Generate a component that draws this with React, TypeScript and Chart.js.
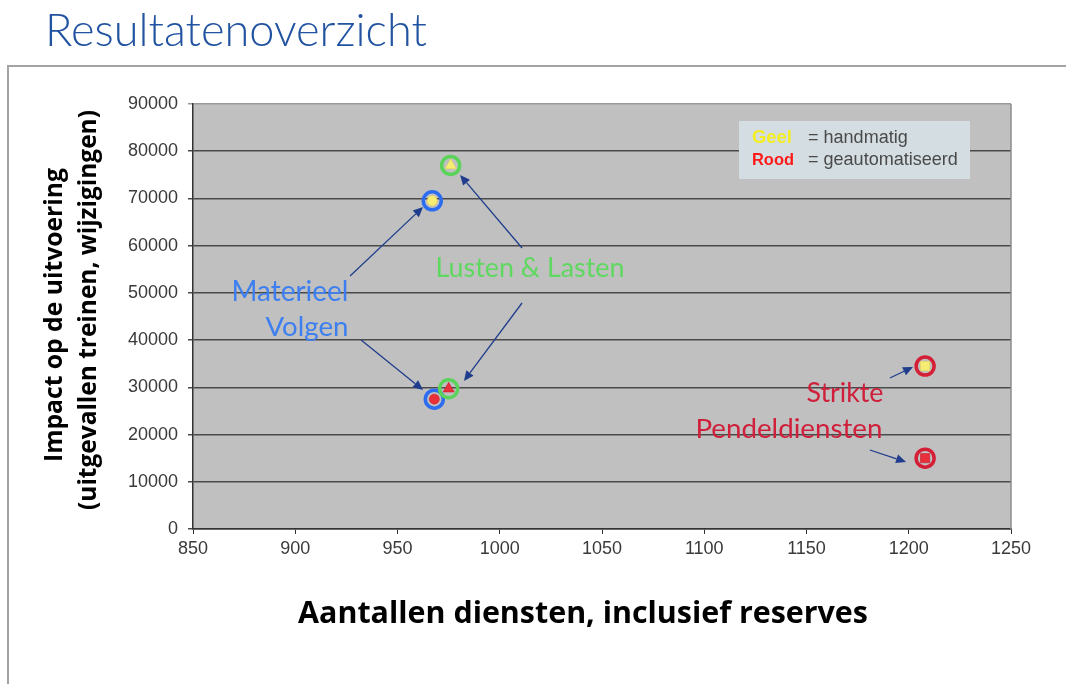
import React, { useEffect, useRef } from 'react';
import { Chart, registerables } from 'chart.js';

Chart.register(...registerables);

// ---------- data ----------
const groups = ['Materieel Volgen', 'Lusten & Lasten', 'Strikte Pendeldiensten'];
const geelDiensten = [967, 976, 1208];
const geelImpact = [69500, 77000, 34500];
const roodDiensten = [968, 975, 1208];
const roodImpact = [27500, 29700, 15000];
const xTickValues = [850, 900, 950, 1000, 1050, 1100, 1150, 1200, 1250];
const yTickValues = [0, 10000, 20000, 30000, 40000, 50000, 60000, 70000, 80000, 90000];

// ---------- styles ----------
const ringColors = ['#2b6cf0', '#5ad35a', '#d41f36'];
const innerShapes = ['circle', 'triangle', 'rect'];
const innerRadius = [5, 6.5, 6.5];
const geelFill = '#f6ec72';
const roodFill = '#e9303a';

const TITLE = 'Resultatenoverzicht';
const Y_TITLE = ['Impact op de uitvoering', '(uitgevallen treinen, wijzigingen)'];
const X_TITLE = 'Aantallen diensten, inclusief reserves';

// annotation labels (data units), with target widths in px
const annoLabels = [
  { text: 'Materieel', x: 897.4, y: 50200, color: '#3d7ff0', w: 117 },
  { text: 'Volgen', x: 905.7, y: 42800, color: '#3d7ff0', w: 83 },
  { text: 'Lusten & Lasten', x: 1014.8, y: 55100, color: '#5fd85f', w: 189 },
  { text: 'Strikte', x: 1168.8, y: 28800, color: '#cf1f3a', w: 77 },
  { text: 'Pendeldiensten', x: 1141.4, y: 21200, color: '#cf1f3a', w: 187 },
];
const annoArrows = [
  { from: [926.8, 53580], to: [962.5, 68190] },
  { from: [932.2, 40020], to: [962.5, 29440] },
  { from: [1010.9, 59510], to: [980.6, 74970] },
  { from: [1010.9, 47860], to: [982.5, 31340] },
  { from: [1190.8, 31980], to: [1202.1, 34310] },
  { from: [1181.0, 16730], to: [1198.7, 14190] },
];

function fitFont(ctx: CanvasRenderingContext2D, text: string, weight: string, family: string, target: number) {
  ctx.font = `${weight} 20px ${family}`;
  const w = ctx.measureText(text).width;
  const size = (20 * target) / w;
  return `${weight} ${size.toFixed(2)}px ${family}`;
}

const decorPlugin = {
  id: 'decor',
  beforeDraw(chart: any) {
    const ctx: CanvasRenderingContext2D = chart.ctx;
    const { left, top, right, bottom } = chart.chartArea;
    ctx.save();
    ctx.fillStyle = '#ffffff';
    ctx.fillRect(0, 0, chart.width, chart.height);
    // outer frame
    ctx.strokeStyle = '#a3a3a3';
    ctx.lineWidth = 2;
    ctx.beginPath();
    ctx.moveTo(8, 700);
    ctx.lineTo(8, 66);
    ctx.lineTo(1070, 66);
    ctx.stroke();
    // title
    ctx.fillStyle = '#2153a0';
    ctx.textBaseline = 'alphabetic';
    ctx.textAlign = 'left';
    ctx.font = fitFont(ctx, TITLE, '300', 'Lato, "Open Sans", sans-serif', 382);
    ctx.fillText(TITLE, 45, 46);
    // plot background
    ctx.fillStyle = '#c0c0c0';
    ctx.fillRect(left, top, right - left, bottom - top);
    ctx.restore();
  },
  afterDraw(chart: any) {
    const ctx: CanvasRenderingContext2D = chart.ctx;
    const xs = chart.scales.x;
    const ys = chart.scales.y;
    const { left, top, right, bottom } = chart.chartArea;
    ctx.save();
    // right border of plot area
    ctx.strokeStyle = '#8c8c8c';
    ctx.lineWidth = 1.5;
    ctx.beginPath();
    ctx.moveTo(right, top);
    ctx.lineTo(right, bottom);
    ctx.stroke();

    // axis titles
    ctx.fillStyle = '#000';
    ctx.textAlign = 'center';
    ctx.textBaseline = 'middle';
    ctx.font = fitFont(ctx, X_TITLE, '700', '"Open Sans", sans-serif', 570);
    ctx.fillText(X_TITLE, 583, 614);
    const yCenters = [[55, 315, 294], [89, 310, 400]];
    Y_TITLE.forEach((t, i) => {
      ctx.save();
      ctx.translate(yCenters[i][0], yCenters[i][1]);
      ctx.rotate(-Math.PI / 2);
      ctx.font = fitFont(ctx, t, '700', '"Open Sans", sans-serif', yCenters[i][2]);
      ctx.fillText(t, 0, 0);
      ctx.restore();
    });

    // arrows
    ctx.strokeStyle = '#1f3d8c';
    ctx.fillStyle = '#1f3d8c';
    ctx.lineWidth = 1.3;
    annoArrows.forEach((a) => {
      const x1 = xs.getPixelForValue(a.from[0]);
      const y1 = ys.getPixelForValue(a.from[1]);
      const x2 = xs.getPixelForValue(a.to[0]);
      const y2 = ys.getPixelForValue(a.to[1]);
      const ang = Math.atan2(y2 - y1, x2 - x1);
      const len = 10;
      const hw = 4.5;
      const bx = x2 - Math.cos(ang) * len;
      const by = y2 - Math.sin(ang) * len;
      ctx.beginPath();
      ctx.moveTo(x1, y1);
      ctx.lineTo(bx, by);
      ctx.stroke();
      ctx.beginPath();
      ctx.moveTo(x2, y2);
      ctx.lineTo(bx + Math.sin(ang) * hw, by - Math.cos(ang) * hw);
      ctx.lineTo(bx - Math.sin(ang) * hw, by + Math.cos(ang) * hw);
      ctx.closePath();
      ctx.fill();
    });

    // annotation labels
    annoLabels.forEach((l) => {
      ctx.fillStyle = l.color;
      ctx.font = fitFont(ctx, l.text, '400', 'Lato, "Open Sans", sans-serif', l.w);
      ctx.fillText(l.text, xs.getPixelForValue(l.x), ys.getPixelForValue(l.y));
    });

    // legend box
    ctx.fillStyle = '#d4dde1';
    ctx.fillRect(739, 121, 231, 58);
    ctx.textAlign = 'left';
    ctx.textBaseline = 'middle';
    ctx.fillStyle = '#f2ee22';
    ctx.font = fitFont(ctx, 'Geel', '700', '"Liberation Sans", Arial, sans-serif', 40);
    ctx.fillText('Geel', 752, 138);
    ctx.fillStyle = '#ff1a1a';
    ctx.font = fitFont(ctx, 'Rood', '700', '"Liberation Sans", Arial, sans-serif', 42);
    ctx.fillText('Rood', 752, 160);
    ctx.fillStyle = '#4a4a4a';
    ctx.font = fitFont(ctx, '= geautomatiseerd', '400', '"Liberation Sans", Arial, sans-serif', 150);
    ctx.fillText('= handmatig', 808, 138);
    ctx.fillText('= geautomatiseerd', 808, 160);
    ctx.restore();
  },
};

function makeDatasets() {
  const pts = (xs: number[], ys: number[]) => xs.map((x, i) => ({ x, y: ys[i] }));
  return [
    {
      label: 'Geel ring',
      data: pts(geelDiensten, geelImpact),
      pointStyle: 'circle',
      pointRadius: 9,
      pointBorderWidth: 3.5,
      pointBorderColor: ringColors,
      pointBackgroundColor: 'rgba(0,0,0,0)',
      showLine: false,
    },
    {
      label: 'Geel (handmatig)',
      data: pts(geelDiensten, geelImpact),
      pointStyle: innerShapes,
      pointRadius: innerRadius,
      pointBorderWidth: 0.5,
      pointBorderColor: '#e6d84a',
      pointBackgroundColor: geelFill,
      showLine: false,
    },
    {
      label: 'Rood ring',
      data: pts(roodDiensten, roodImpact),
      pointStyle: 'circle',
      pointRadius: 9,
      pointBorderWidth: 3.5,
      pointBorderColor: ringColors,
      pointBackgroundColor: 'rgba(0,0,0,0)',
      showLine: false,
    },
    {
      label: 'Rood (geautomatiseerd)',
      data: pts(roodDiensten, roodImpact),
      pointStyle: innerShapes,
      pointRadius: innerRadius,
      pointBorderWidth: 0.5,
      pointBorderColor: '#b81525',
      pointBackgroundColor: roodFill,
      showLine: false,
    },
  ];
}

export default function App() {
  const ref = useRef<HTMLCanvasElement | null>(null);
  useEffect(() => {
    if (!ref.current) return;
    const chart = new Chart(ref.current, {
      type: 'scatter',
      data: { datasets: makeDatasets() as any },
      options: {
        animation: false,
        responsive: false,
        events: [],
        layout: { padding: { left: 0, top: 104, right: 55, bottom: 0 } },
        plugins: { legend: { display: false }, tooltip: { enabled: false }, title: { display: false } },
        scales: {
          x: {
            type: 'linear',
            min: 850,
            max: 1250,
            afterBuildTicks: (s: any) => {
              s.ticks = xTickValues.map((v) => ({ value: v }));
            },
            afterFit: (s: any) => {
              s.height = 155;
            },
            ticks: {
              padding: 4,
              color: '#3a3a3a',
              font: { family: '"Liberation Sans", Arial, sans-serif', size: 18 },
              callback: (v: any) => String(v),
            },
            grid: { drawOnChartArea: false, drawTicks: true, tickLength: 5, color: '#333', lineWidth: 1 },
            border: { display: true, color: '#333', width: 1.5 },
          },
          y: {
            type: 'linear',
            min: 0,
            max: 90000,
            afterBuildTicks: (s: any) => {
              s.ticks = yTickValues.map((v) => ({ value: v }));
            },
            afterFit: (s: any) => {
              s.width = 193;
            },
            ticks: {
              padding: 10,
              color: '#3a3a3a',
              font: { family: '"Liberation Sans", Arial, sans-serif', size: 18 },
              callback: (v: any) => String(v),
            },
            grid: {
              drawOnChartArea: true,
              drawTicks: true,
              tickLength: 5,
              color: (c: any) => (c.tick && c.tick.value === 90000 ? '#999' : '#4a4a4a'),
              lineWidth: 1.5,
            },
            border: { display: true, color: '#333', width: 1.5 },
          },
        },
      },
      plugins: [decorPlugin],
    });
    return () => chart.destroy();
  }, []);
  return (
    <div style={{ position: 'fixed', left: 0, top: 0, width: 1066, height: 684, background: '#fff' }}>
      <canvas ref={ref} width={1066} height={684} style={{ display: 'block' }} />
    </div>
  );
}
